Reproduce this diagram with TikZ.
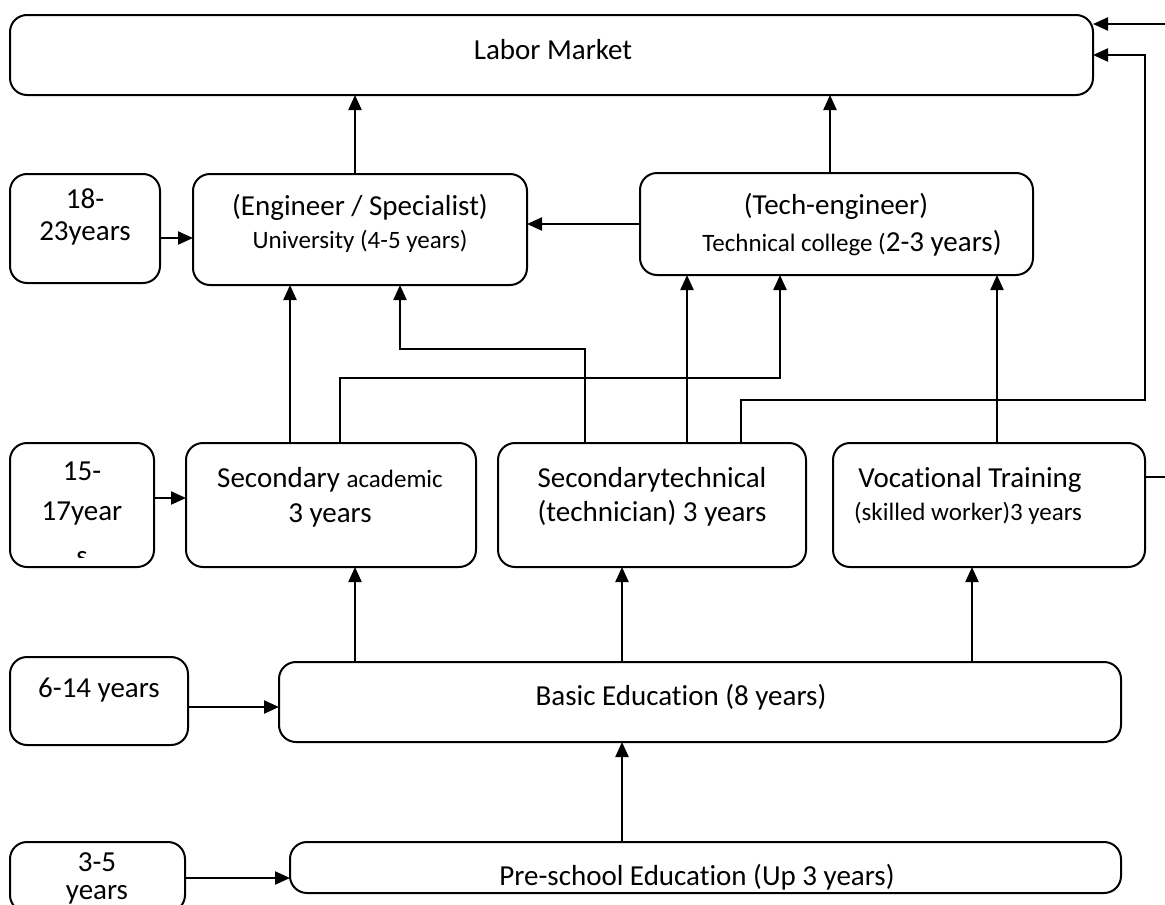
\documentclass[tikz,border=0pt]{standalone}
\usepackage{fontspec}
\setmainfont{Carlito}[Ligatures={NoCommon}]
\usetikzlibrary{arrows.meta}
\newcommand{\mainsz}{\fontsize{29}{35}\selectfont}
\newcommand{\smsz}{\fontsize{25}{35}\selectfont}
\begin{document}
\begin{tikzpicture}[x=1pt,y=-1pt,
  box/.style={draw, line width=2pt, rounded corners=17pt, inner sep=0pt, outer sep=0pt},
  arr/.style={line width=2.2pt, -{Triangle[length=15pt,width=13pt]}},
  ln/.style={line width=1.6pt},
  txt/.style={font=\mainsz, align=center, inner sep=0pt},
]
\useasboundingbox (0,0) rectangle (1165,905);

% boxes
\node[box, minimum width=1083pt, minimum height=80pt]  (labor) at (551.5,55) {};
\node[box, minimum width=150pt,  minimum height=109pt] (a18)   at (85,228.5) {};
\node[box, minimum width=334pt,  minimum height=111pt] (uni)   at (360,229.5) {};
\node[box, minimum width=393pt,  minimum height=102pt] (tech)  at (836.5,224) {};
\node[box, minimum width=144pt,  minimum height=124pt] (a15)   at (82,505) {};
\node[box, minimum width=290pt,  minimum height=124pt] (secA)  at (331,505) {};
\node[box, minimum width=308pt,  minimum height=124pt] (secT)  at (652,505) {};
\node[box, minimum width=312pt,  minimum height=124pt] (voc)   at (989,505) {};
\node[box, minimum width=178pt,  minimum height=88pt]  (a6)    at (99,701) {};
\node[box, minimum width=842pt,  minimum height=80pt]  (basic) at (700,702) {};
\node[box, minimum width=175pt,  minimum height=70pt]  (a3)    at (97.5,877) {};
\node[box, minimum width=831pt,  minimum height=51pt]  (pre)   at (705.5,867.5) {};

% texts
\node[txt] (tlabor) at (553,50) {Labor Market};
\node[txt] (ta18a) at (85,199) {18-};
\node[txt] (ta18b) at (85,233) {23years};
\node[txt] (tuni1) at (360,207) {(Engineer / Specialist)};
\node[txt, font=\smsz] (tuni2) at (360,241) {University (4-5 years)};
\node[txt] (ttech1) at (836,206) {(Tech-engineer)};
\node[txt] (ttech2) at (852,243) {{\smsz Technical college (}2-3 years)};
\node[txt] (ta15a) at (82,471) {15-};
\node[txt] (ta15b) at (82,513) {17year};
\begin{scope}
  \clip (12,540) rectangle (152,557);
  \node[txt] (ta15c) at (82,559) {s};
\end{scope}
\node[txt] (tsecA1) at (330,480) {Secondary {\smsz academic}};
\node[txt] (tsecA2) at (330,515) {3 years};
\node[txt] (tsecT1) at (652,480) {Secondarytechnical};
\node[txt] (tsecT2) at (652,513) {(technician) 3 years};
\node[txt] (tvoc1) at (970,480) {Vocational Training};
\node[txt, font=\smsz] (tvoc2) at (968,513) {(skilled worker)3 years};
\node[txt] (ta6) at (99,690) {6-14 years};
\node[txt] (tbasic) at (681,697) {Basic Education (8 years)};
\node[txt] (ta3a) at (97,862) {3-5};
\node[txt] (ta3b) at (97,895) {years};
\node[txt] (tpre) at (697,877) {Pre-school Education (Up 3 years)};

% helper coordinates
\coordinate (c290) at (290,0);
\coordinate (c355) at (355,0);
\coordinate (c622) at (622,0);
\coordinate (c687) at (687,0);
\coordinate (c830) at (830,0);
\coordinate (c972) at (972,0);
\coordinate (c997) at (997,0);
\coordinate (k1) at (340,378);
\coordinate (k2) at (780,378);
\coordinate (k3) at (585,349);
\coordinate (k4) at (400,349);
\coordinate (k5) at (741,400);
\coordinate (k6) at (1145,400);
\coordinate (k7) at (1145,55);
\coordinate (k8) at (1165,477);
\coordinate (k9) at (1165,24);
\coordinate (r238) at (0,238);
\coordinate (r498) at (0,498);
\coordinate (r707) at (0,707);
\coordinate (r878) at (0,878);

% connectors
\draw[arr] (uni.north -| c355) -- (labor.south -| c355);
\draw[arr] (tech.north -| c830) -- (labor.south -| c830);
\draw[arr] (tech.west) -- (tech.west -| uni.east);
\draw[arr] (a18.east |- r238) -- (uni.west |- r238);
\draw[arr] (secA.north -| c290) -- (uni.south -| c290);
\draw[arr] (secA.north -| k1) -- (k1) -- (k2) -- (tech.south -| k2);
\draw[arr] (secT.north -| k3) -- (k3) -- (k4) -- (uni.south -| k4);
\draw[arr] (secT.north -| c687) -- (tech.south -| c687);
\draw[arr] (secT.north -| k5) -- (k5) -- (k6) -- (k7) -- (labor.east |- k7);
\draw[ln] (voc.east |- k8) -- (k8);
\draw[arr] (k9) -- (labor.east |- k9);
\draw[arr] (voc.north -| c997) -- (tech.south -| c997);
\draw[arr] (basic.north -| c355) -- (secA.south -| c355);
\draw[arr] (basic.north -| c622) -- (secT.south -| c622);
\draw[arr] (basic.north -| c972) -- (voc.south -| c972);
\draw[arr] (a15.east |- r498) -- (secA.west |- r498);
\draw[arr] (a6.east |- r707) -- (basic.west |- r707);
\draw[arr] (a3.east |- r878) -- (pre.west |- r878);
\draw[arr] (pre.north -| c622) -- (basic.south -| c622);
\end{tikzpicture}
\end{document}
